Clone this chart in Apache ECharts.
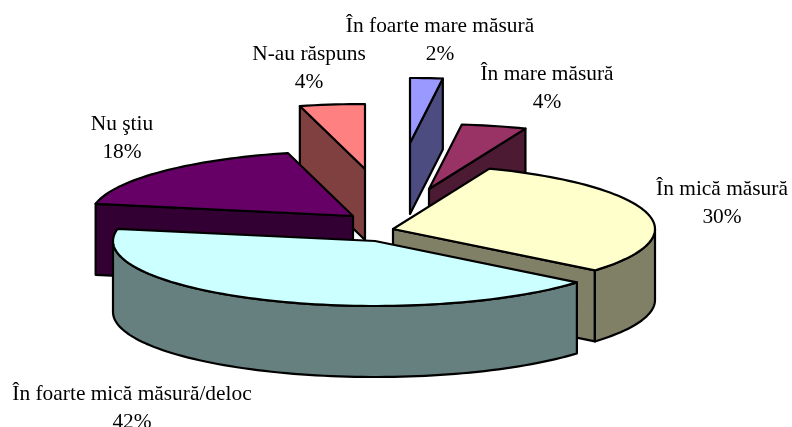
<!DOCTYPE html>
<html>
<head>
<meta charset="utf-8">
<style>
  html, body { margin: 0; padding: 0; background: #fff; }
  #chart { width: 792px; height: 427px; }
</style>
<script src="https://cdn.jsdelivr.net/npm/echarts@6/dist/echarts.min.js"></script>
</head>
<body>
<div id="chart"></div>
<script>
// data, clockwise from 12 o'clock
const categories = ["În foarte mare măsură", "În mare măsură", "În mică măsură", "În foarte mică măsură/deloc", "Nu ştiu", "N-au răspuns"];
const percents = [2, 4, 30, 42, 18, 4];

// look of each slice
const topColors = ["#9999FF", "#993366", "#FFFFCC", "#CCFFFF", "#660066", "#FF8080"];
const wallColors = ["#4C4C80", "#4D1A33", "#808066", "#668080", "#330033", "#804040"];
// exploded offset from the pie centre, px
const explode = [[30, -89], [49, -43], [13, -3], [-5, 9], [-27, -16], [-15, -63]];
const labelPos = [[440, 40], [547, 88], [722, 203], [132, 408], [122, 138], [309, 68]];
const drawOrder = [0, 5, 1, 4, 2, 3]; // back to front

const centre = [380, 232];
const rx = 262, ry = 65, depth = 71;

const total = percents.reduce((a, b) => a + b, 0);
const starts = [];
percents.reduce((acc, v, i) => { starts[i] = acc; return acc + v; }, 0);

function rad(share) { return share / total * Math.PI * 2; }

function renderSlice(params, api) {
  const i = api.value(0);
  const a0 = rad(starts[i]);
  const a1 = rad(starts[i] + api.value(1));
  const tip = [centre[0] + explode[i][0], centre[1] + explode[i][1]];
  const rim = a => [tip[0] + rx * Math.sin(a), tip[1] - ry * Math.cos(a)];
  const down = p => [p[0], p[1] + depth];
  const line = { stroke: "#000", lineWidth: 2.2, lineJoin: "round" };
  const base = drawOrder.indexOf(i) * 10;
  const children = [];
  const poly = (pts, fill, z) => children.push({
    type: "polygon", z2: base + z, shape: { points: pts }, style: Object.assign({ fill: fill }, line)
  });

  // arc samples
  const arc = (from, to) => {
    const pts = [];
    const n = Math.max(2, Math.ceil((to - from) / 0.03));
    for (let k = 0; k <= n; k++) pts.push(rim(from + (to - from) * k / n));
    return pts;
  };

  // cut faces, only the ones turned to the viewer
  if (Math.sin(a0) < -0.001) {
    const p = rim(a0);
    poly([p, tip, down(tip), down(p)], wallColors[i], 0);
  }
  if (Math.sin(a1) > 0.001) {
    const p = rim(a1);
    poly([p, tip, down(tip), down(p)], wallColors[i], 0);
  }
  // outer wall, front half of the ellipse
  const w0 = Math.max(a0, Math.PI / 2), w1 = Math.min(a1, Math.PI * 1.5);
  if (w1 > w0) {
    const top = arc(w0, w1);
    poly(top.concat(top.slice().reverse().map(down)), wallColors[i], 1);
  }
  // top face
  poly([tip].concat(arc(a0, a1)), topColors[i], 2);

  // label
  children.push({
    type: "text", z2: 500,
    style: {
      x: labelPos[i][0], y: labelPos[i][1],
      text: categories[i] + "\n" + percents[i] + "%",
      font: '21.4px "Liberation Serif"', fill: "#000",
      align: "center", verticalAlign: "middle", lineHeight: 28
    }
  });
  return { type: "group", children: children };
}

const chart = echarts.init(document.getElementById("chart"));
chart.setOption({
  animation: false,
  backgroundColor: "#fff",
  series: [{
    type: "custom",
    coordinateSystem: "none",
    renderItem: renderSlice,
    silent: true,
    data: percents.map((v, i) => [i, v])
  }]
});
</script>
</body>
</html>
